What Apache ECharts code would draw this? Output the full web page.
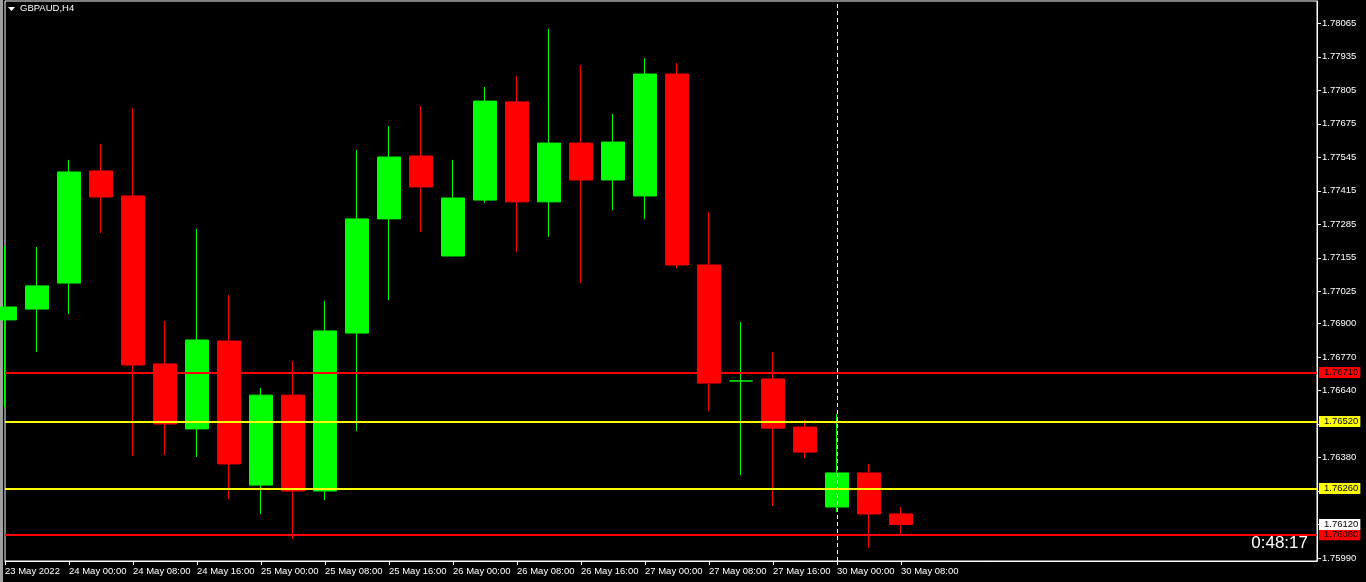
<!DOCTYPE html>
<html><head><meta charset="utf-8">
<script src="https://cdn.jsdelivr.net/npm/echarts@6/dist/echarts.min.js"></script>
<style>html,body{margin:0;padding:0;background:#000;overflow:hidden;} #c{width:1366px;height:582px;}</style>
</head><body><div id="c"></div>
<script>
// ---------------- data ----------------
const symbolTitle = 'GBPAUD,H4';
const firstLabel = '23 May 2022';
const categories = ['23 May 16:00','23 May 20:00','24 May 00:00','24 May 04:00','24 May 08:00','24 May 12:00','24 May 16:00','24 May 20:00',
  '25 May 00:00','25 May 04:00','25 May 08:00','25 May 12:00','25 May 16:00','25 May 20:00','26 May 00:00','26 May 04:00',
  '26 May 08:00','26 May 12:00','26 May 16:00','26 May 20:00','27 May 00:00','27 May 04:00','27 May 08:00','27 May 12:00',
  '27 May 16:00','27 May 20:00','30 May 00:00','30 May 04:00','30 May 08:00'];
const futureSlots = 13;
const opens  = [1.76914,1.76956,1.77057,1.77492,1.77395,1.76743,1.76491,1.76832,1.76273,1.76622,1.76250,1.76863,1.77306,1.77550,1.77162,1.77379,1.77760,1.77372,1.77600,1.77457,1.77395,1.77868,1.77127,1.76677,1.76685,1.76498,1.76188,1.76320,1.76161];
const highs  = [1.77201,1.77197,1.77535,1.77597,1.77736,1.76910,1.77267,1.77011,1.76650,1.76754,1.76987,1.77573,1.77666,1.77744,1.77535,1.77818,1.77861,1.78043,1.77903,1.77713,1.77930,1.77911,1.77333,1.76906,1.76789,1.76525,1.76549,1.76355,1.76188];
const lows   = [1.76576,1.76789,1.76937,1.77251,1.76386,1.76390,1.76382,1.76219,1.76161,1.76064,1.76215,1.76483,1.76991,1.77255,1.77160,1.77368,1.77177,1.77236,1.77057,1.77340,1.77306,1.77115,1.76560,1.76312,1.76192,1.76378,1.76168,1.76029,1.76079];
const closes = [1.76964,1.77046,1.77488,1.77391,1.76739,1.76510,1.76836,1.76355,1.76622,1.76250,1.76871,1.77306,1.77546,1.77430,1.77387,1.77763,1.77372,1.77600,1.77457,1.77604,1.77868,1.77127,1.76669,1.76677,1.76494,1.76401,1.76320,1.76161,1.76120];
const yTicks = [1.78065,1.77935,1.77805,1.77675,1.77545,1.77415,1.77285,1.77155,1.77025,1.76900,1.76770,1.76640,1.76510,1.76380,1.76250,1.76120,1.75990];
const priceMin = 1.759784;
const priceMax = 1.781515;
const levelValues = [1.76710, 1.76520, 1.76260, 1.76080];
const currentPrice = 1.76120;
const separatorCategory = '30 May 00:00';
const timerText = '0:48:17';

// ---------------- chart ----------------
const levelColors = ['#ff0000', '#ffff00', '#ffff00', '#ff0000'];
const FONT = 'Liberation Sans';
const xData = categories.concat(Array.from({length: futureSlots}, (_, i) => 'slot' + i));
const showIdx = (i) => i < categories.length && i % 2 === 0;
const candleData = opens.map((o, i) => [o, closes[i], lows[i], highs[i]]);

const chart = echarts.init(document.getElementById('c'), null, {renderer: 'canvas'});
chart.setOption({
  backgroundColor: '#000',
  animation: false,
  grid: {left: 5, right: 49, top: 1, bottom: 21, show: true, borderColor: '#fff', borderWidth: 1, backgroundColor: '#000'},
  xAxis: {
    type: 'category', data: xData, boundaryGap: false,
    axisLine: {show: true, lineStyle: {color: '#fff', width: 1}},
    axisTick: {show: true, interval: (i) => showIdx(i), length: 4, lineStyle: {color: '#fff'}},
    axisLabel: {interval: (i) => showIdx(i), formatter: (v, i) => i === 0 ? firstLabel : v,
      color: '#fff', fontFamily: FONT, fontSize: 9.5, align: 'left', margin: 5, showMinLabel: true},
    splitLine: {show: false}
  },
  yAxis: {
    type: 'value', position: 'right', min: priceMin, max: priceMax,
    axisLine: {show: true, lineStyle: {color: '#fff'}},
    axisTick: {show: true, customValues: yTicks, length: 4, lineStyle: {color: '#fff'}},
    axisLabel: {customValues: yTicks, formatter: (v) => v.toFixed(5), color: '#fff', fontFamily: FONT, fontSize: 9.5, margin: 5},
    splitLine: {show: false}
  },
  series: [{
    type: 'candlestick',
    data: candleData,
    barWidth: 24,
    clip: true,
    itemStyle: {color: '#00ff00', color0: '#ff0000', borderColor: '#00ff00', borderColor0: '#ff0000', borderColorDoji: '#00ff00', borderWidth: 1},
    markLine: {
      silent: true, symbol: ['none', 'none'], animation: false, precision: 5,
      label: {show: true, position: 'end', distance: 2, color: '#000', fontFamily: FONT, fontSize: 9.5, lineHeight: 10,
        padding: [1, 2, 0, 5], formatter: (p) => Number(p.value).toFixed(5)},
      data: levelValues.map((v, i) => ({yAxis: v, lineStyle: {color: levelColors[i], width: 2, type: 'solid'},
          label: {backgroundColor: levelColors[i]}}))
        .concat([
          {yAxis: currentPrice, lineStyle: {color: 'rgba(0,0,0,0)', width: 1}, label: {backgroundColor: '#ffffff', color: '#000000', opacity: 1}},
          {xAxis: separatorCategory, lineStyle: {color: '#ffffff', width: 1, type: [4, 3]}, label: {show: false}}
        ])
    }
  }],
  graphic: [
    {type: 'rect', shape: {x: 0, y: 0, width: 3, height: 582}, style: {fill: '#a0a0a0'}},
    {type: 'polygon', shape: {points: [[8, 7], [15, 7], [11.5, 11]]}, style: {fill: '#ffffff'}},
    {type: 'text', x: 20, y: 8.5, style: {text: symbolTitle, fill: '#ffffff', font: '9.5px "Liberation Sans"', verticalAlign: 'middle', align: 'left'}},
    {type: 'text', x: 1308, y: 543, z: 100, style: {text: timerText, fill: '#ffffff', font: '17px "Liberation Sans"', verticalAlign: 'middle', align: 'right'}}
  ]
});
</script>
</body></html>
